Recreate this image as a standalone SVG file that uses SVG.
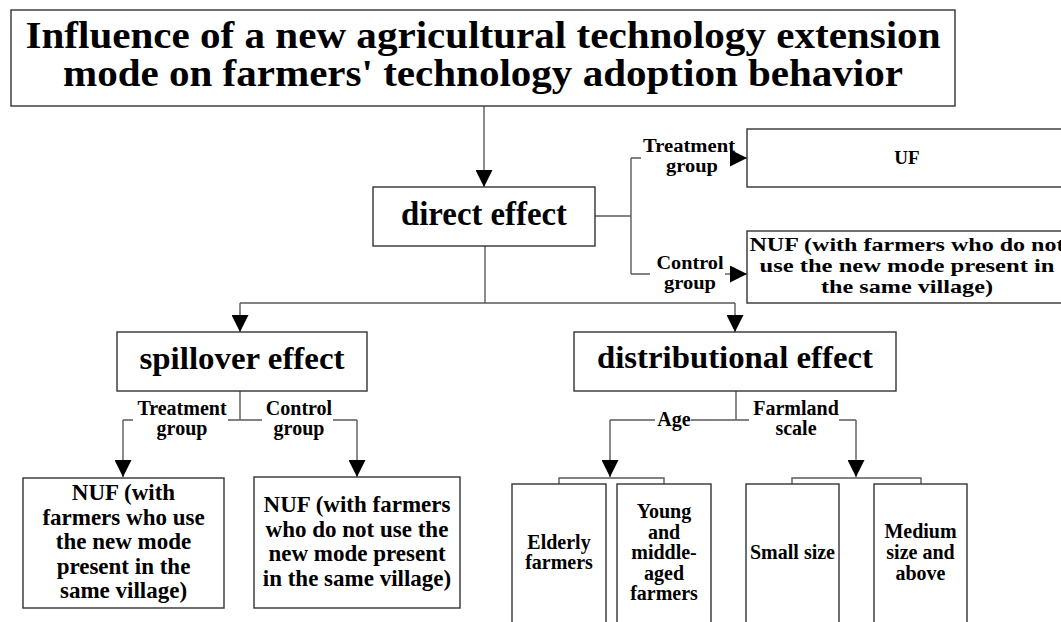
<svg xmlns="http://www.w3.org/2000/svg" width="1061" height="622" viewBox="0 0 1061 622" font-family="'Liberation Serif', 'DejaVu Serif', serif">
<style>
.box{fill:#fff;stroke:#333;stroke-width:1.4}
.con{fill:none;stroke:#5a5a5a;stroke-width:1.4}
text{font-family:'Liberation Serif','DejaVu Serif',serif;font-weight:bold;fill:#000;text-anchor:middle}
.t38{font-size:38px}
.t35{font-size:34px}
.t33{font-size:32px}
.t24{font-size:23px}
.t21{font-size:19.5px}
.t20{font-size:20px}
.t19{font-size:19px}
.t18{font-size:18px}
</style>
<defs>
<marker id="arr" markerUnits="userSpaceOnUse" markerWidth="17" markerHeight="17" viewBox="0 0 16 16" refX="16" refY="8" orient="auto">
<path d="M0,0 L16,8 L0,16 z" fill="#000"/>
</marker>
</defs>
<rect width="1061" height="622" fill="#fff"/>

<g id="connectors">
<path class="con" d="M484,106 V187" marker-end="url(#arr)"/>
<path class="con" d="M595,216 H631 M631,158 V274 M631,158 H641 M631,274 H650"/>
<path class="con" d="M733,158 H747" marker-end="url(#arr)"/>
<path class="con" d="M725,274 H747" marker-end="url(#arr)"/>
<path class="con" d="M485,246 V303 M240,303 H735"/>
<path class="con" d="M240,303 V332" marker-end="url(#arr)"/>
<path class="con" d="M735,303 V332" marker-end="url(#arr)"/>
<path class="con" d="M240,391 V420 M123,420 H133 M228,420 H262 M333,420 H357"/>
<path class="con" d="M123,420 V477" marker-end="url(#arr)"/>
<path class="con" d="M357,420 V477" marker-end="url(#arr)"/>
<path class="con" d="M736,391 V420 M610,420 H655 M691,420 H749 M839,420 H856"/>
<path class="con" d="M610,420 V477" marker-end="url(#arr)"/>
<path class="con" d="M856,420 V477" marker-end="url(#arr)"/>
<path class="con" d="M559,484 V478 H664 V484 M792,484 V478 H921 V484"/>
</g>

<g id="labels">
<text class="t18" x="689" y="152" textLength="92" lengthAdjust="spacingAndGlyphs">Treatment</text>
<text class="t18" x="692" y="172" textLength="52" lengthAdjust="spacingAndGlyphs">group</text>
<text class="t18" x="690" y="269" textLength="67" lengthAdjust="spacingAndGlyphs">Control</text>
<text class="t18" x="690" y="289" textLength="52" lengthAdjust="spacingAndGlyphs">group</text>
<text class="t20" x="182" y="415">Treatment</text>
<text class="t20" x="182" y="435">group</text>
<text class="t20" x="299" y="415">Control</text>
<text class="t20" x="299" y="435">group</text>
<text class="t20" x="674" y="426">Age</text>
<text class="t20" x="796" y="415">Farmland</text>
<text class="t20" x="796" y="435">scale</text>
</g>

<g id="title">
<rect class="box" x="11" y="10" width="944" height="96"/>
<text class="t38" x="483" y="48" textLength="915" lengthAdjust="spacingAndGlyphs">Influence of a new agricultural technology extension</text>
<text class="t38" x="483" y="86" textLength="840" lengthAdjust="spacingAndGlyphs">mode on farmers' technology adoption behavior</text>
</g>

<g id="direct-effect">
<rect class="box" x="373" y="187" width="222" height="59"/>
<text class="t35" x="484" y="225" textLength="166" lengthAdjust="spacingAndGlyphs">direct effect</text>
</g>

<g id="uf">
<rect class="box" x="747" y="129" width="330" height="58"/>
<text class="t19" x="907" y="164">UF</text>
</g>

<g id="nuf-direct">
<rect class="box" x="747" y="231" width="330" height="72"/>
<text class="t21" x="907" y="251" textLength="315" lengthAdjust="spacingAndGlyphs">NUF (with farmers who do not</text>
<text class="t21" x="907" y="272" textLength="295" lengthAdjust="spacingAndGlyphs">use the new mode present in</text>
<text class="t21" x="907" y="293" textLength="172" lengthAdjust="spacingAndGlyphs">the same village)</text>
</g>

<g id="spillover-effect">
<rect class="box" x="117" y="332" width="250" height="59"/>
<text class="t33" x="242" y="369" textLength="205" lengthAdjust="spacingAndGlyphs">spillover effect</text>
</g>

<g id="distributional-effect">
<rect class="box" x="574" y="332" width="322" height="59"/>
<text class="t33" x="735" y="368" textLength="276" lengthAdjust="spacingAndGlyphs">distributional effect</text>
</g>

<g id="nuf-treatment">
<rect class="box" x="23" y="478" width="201" height="130"/>
<text class="t24" x="123.5" y="500">NUF (with</text>
<text class="t24" x="123.5" y="524.5">farmers who use</text>
<text class="t24" x="123.5" y="549">the new mode</text>
<text class="t24" x="123.5" y="573.5">present in the</text>
<text class="t24" x="123.5" y="598">same village)</text>
</g>

<g id="nuf-control">
<rect class="box" x="254" y="477" width="206" height="131"/>
<text class="t24" x="357" y="512">NUF (with farmers</text>
<text class="t24" x="357" y="536.5">who do not use the</text>
<text class="t24" x="357" y="561">new mode present</text>
<text class="t24" x="357" y="585.5">in the same village)</text>
</g>

<g id="elderly">
<rect class="box" x="512" y="484" width="94" height="150"/>
<text class="t20" x="559" y="549">Elderly</text>
<text class="t20" x="559" y="569">farmers</text>
</g>

<g id="young">
<rect class="box" x="617" y="484" width="94" height="150"/>
<text class="t20" x="664" y="518">Young</text>
<text class="t20" x="664" y="538.5">and</text>
<text class="t20" x="664" y="559">middle-</text>
<text class="t20" x="664" y="579.5">aged</text>
<text class="t20" x="664" y="600">farmers</text>
</g>

<g id="small-size">
<rect class="box" x="746" y="484" width="93" height="150"/>
<text class="t20" x="792.5" y="559">Small size</text>
</g>

<g id="medium-size">
<rect class="box" x="874" y="484" width="93" height="150"/>
<text class="t20" x="920.5" y="538">Medium</text>
<text class="t20" x="920.5" y="559">size and</text>
<text class="t20" x="920.5" y="580">above</text>
</g>
</svg>
